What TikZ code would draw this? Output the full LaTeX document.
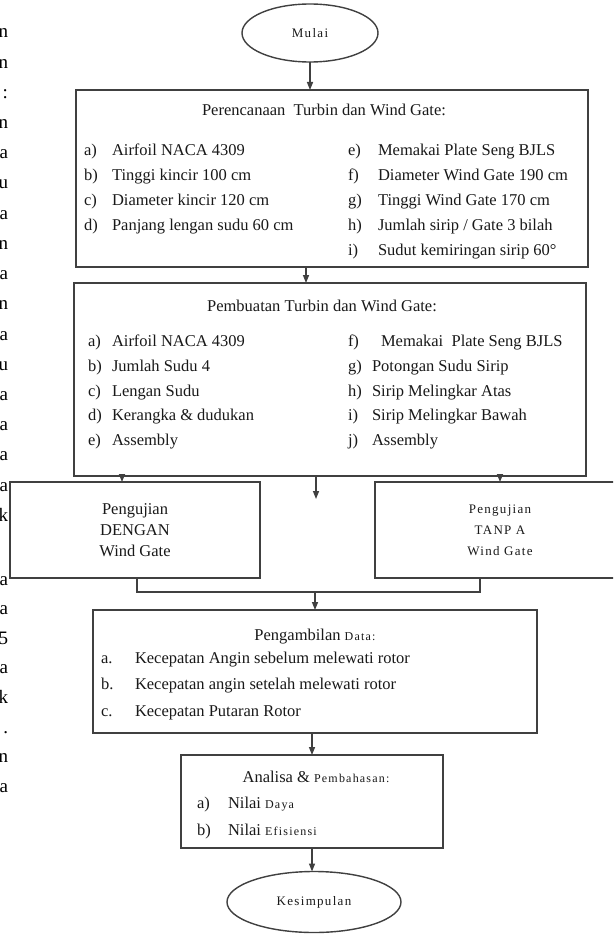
\documentclass[tikz,border=0pt]{standalone}
\usepackage{fontspec}
\setmainfont{Liberation Serif}
\newfontfamily\spc[LetterSpace=10]{Liberation Serif}
\usetikzlibrary{shapes.geometric,arrows.meta}
\begin{document}
\begin{tikzpicture}[x=1pt,y=-1pt,
  line/.style={draw=black!75,line width=1.4pt},
  arr/.style={line,-{Triangle[length=8pt,width=6pt]}},
  box/.style={line,rectangle,anchor=north west,inner sep=0pt,outer sep=0pt},
  oval/.style={line,ellipse,inner sep=0pt,outer sep=0pt},
  txt/.style={inner sep=0pt,outer sep=0pt,text=black!90,font=\fontsize{16.5}{21}\selectfont},
  lbl/.style={txt,anchor=base west},
  ttl/.style={txt,anchor=base},
  sm/.style={inner sep=0pt,outer sep=0pt,text=black!90,font=\spc\fontsize{13}{21}\selectfont},
  edgeltr/.style={inner sep=0pt,outer sep=0pt,anchor=base east,text=black,font=\fontsize{19}{20}\selectfont}
]
\useasboundingbox (0,0) rectangle (613,936);
\clip (0,0) rectangle (613,936);
\fill[white] (0,0) rectangle (613,936);

% cut letters at left edge
\foreach \c [count=\i from 0] in {n,n,:,n,a,u,a,n,a,n,a,u,a,a,a,a,k}
  \node[edgeltr] (up\i) at (8,38+30.2*\i) {\c};
\foreach \c [count=\i from 0] in {a,a,5,a,k,.,n,a}
  \node[edgeltr] (lo\i) at (8,585+29.6*\i) {\c};

% start
\node[oval,minimum width=136pt,minimum height=58pt] (mulai) at (310,33) {};
\node[sm] (mulait) at (310,33) {Mulai};

% box 1
\node[box,minimum width=512pt,minimum height=177pt] (b1) at (76,90) {};
\node[ttl] (b1t) at (324,115.5) {Perencanaan\ \ Turbin dan Wind Gate:};
\node[lbl] (b1la) at (84,155.5) {a)};
\node[lbl] (b1lb) at (84,180.5) {b)};
\node[lbl] (b1lc) at (84,205.5) {c)};
\node[lbl] (b1ld) at (84,230.5) {d)};
\node[lbl] (b1ta) at (112,155.5) {Airfoil NACA 4309};
\node[lbl] (b1tb) at (112,180.5) {Tinggi kincir 100 cm};
\node[lbl] (b1tc) at (112,205.5) {Diameter kincir 120 cm};
\node[lbl] (b1td) at (112,230.5) {Panjang lengan sudu 60 cm};
\node[lbl] (b1le) at (348,155.5) {e)};
\node[lbl] (b1lf) at (348,180.5) {f)};
\node[lbl] (b1lg) at (348,205.5) {g)};
\node[lbl] (b1lh) at (348,230.5) {h)};
\node[lbl] (b1li) at (348,255.5) {i)};
\node[lbl] (b1te) at (378,155.5) {Memakai Plate Seng BJLS};
\node[lbl] (b1tf) at (378,180.5) {Diameter Wind Gate 190 cm};
\node[lbl] (b1tg) at (378,205.5) {Tinggi Wind Gate 170 cm};
\node[lbl] (b1th) at (378,230.5) {Jumlah sirip / Gate 3 bilah};
\node[lbl] (b1ti) at (378,255.5) {Sudut kemiringan sirip 60°};

% box 2
\node[box,minimum width=512pt,minimum height=193pt] (b2) at (74,283) {};
\node[ttl] (b2t) at (322,311.5) {Pembuatan Turbin dan Wind Gate:};
\node[lbl] (b2la) at (88,346.5) {a)};
\node[lbl] (b2lb) at (88,371.5) {b)};
\node[lbl] (b2lc) at (88,396.5) {c)};
\node[lbl] (b2ld) at (88,420.5) {d)};
\node[lbl] (b2le) at (88,445.5) {e)};
\node[lbl] (b2ta) at (112,346.5) {Airfoil NACA 4309};
\node[lbl] (b2tb) at (112,371.5) {Jumlah Sudu 4};
\node[lbl] (b2tc) at (112,396.5) {Lengan Sudu};
\node[lbl] (b2td) at (112,420.5) {Kerangka \& dudukan};
\node[lbl] (b2te) at (112,445.5) {Assembly};
\node[lbl] (b2lf) at (348,346.5) {f)};
\node[lbl] (b2lg) at (348,371.5) {g)};
\node[lbl] (b2lh) at (348,396.5) {h)};
\node[lbl] (b2li) at (348,420.5) {i)};
\node[lbl] (b2lj) at (348,445.5) {j)};
\node[lbl] (b2tf) at (381,346.5) {Memakai\ \ Plate Seng BJLS};
\node[lbl] (b2tg) at (372,371.5) {Potongan Sudu Sirip};
\node[lbl] (b2th) at (372,396.5) {Sirip Melingkar Atas};
\node[lbl] (b2ti) at (372,420.5) {Sirip Melingkar Bawah};
\node[lbl] (b2tj) at (372,445.5) {Assembly};

% box 3
\node[box,minimum width=250pt,minimum height=96pt] (b3L) at (10,482) {};
\node[txt,align=center,font=\fontsize{16.5}{21}\selectfont] (b3Lt) at (135,530) {Pengujian\\DENGAN\\Wind Gate};
\node[box,minimum width=260pt,minimum height=96pt] (b3R) at (375,482) {};
\node[sm,align=center] (b3Rt) at (500,530) {Pengujian\\TANP A\\Wind Gate};

% box 4
\node[box,minimum width=444pt,minimum height=123pt] (b4) at (93,610) {};
\node[ttl] (b4t) at (315,640.5) {Pengambilan {\spc\fontsize{12}{14}\selectfont Data:}};
\node[lbl] (b4la) at (101,663.5) {a.};
\node[lbl] (b4lb) at (101,689.5) {b.};
\node[lbl] (b4lc) at (101,716.5) {c.};
\node[lbl] (b4ta) at (135,663.5) {Kecepatan Angin sebelum melewati rotor};
\node[lbl] (b4tb) at (135,689.5) {Kecepatan angin setelah melewati rotor};
\node[lbl] (b4tc) at (135,716.5) {Kecepatan Putaran Rotor};

% box 5
\node[box,minimum width=262pt,minimum height=93pt] (b5) at (181,755) {};
\node[ttl] (b5t) at (316,782.5) {Analisa \& {\spc\fontsize{12}{14}\selectfont Pembahasan:}};
\node[lbl] (b5la) at (197,808.5) {a)};
\node[lbl] (b5lb) at (197,835.5) {b)};
\node[lbl] (b5ta) at (228,808.5) {Nilai {\spc\fontsize{12}{14}\selectfont Daya}};
\node[lbl] (b5tb) at (228,835.5) {Nilai {\spc\fontsize{12}{14}\selectfont Efisiensi}};

% end
\node[oval,minimum width=174pt,minimum height=61pt] (kes) at (314,902) {};
\node[sm] (kest) at (314,902) {Kesimpulan};

% connectors
\coordinate (x306) at (306,0);
\coordinate (x122) at (122,0);
\coordinate (x500) at (500,0);
\coordinate (x316) at (316,0);
\coordinate (x137) at (137,0);
\coordinate (x480) at (480,0);
\coordinate (x312) at (312,0);
\coordinate (mid) at (316,499);
\coordinate (join) at (315,592);

\draw[arr] (mulai.south) -- (mulai.south |- b1.north);
\draw[arr] (b1.south -| x306) -- (b2.north -| x306);
\draw[arr] (b2.south -| x122) -- (b3L.north -| x122);
\draw[arr] (b2.south -| x500) -- (b3R.north -| x500);
\draw[arr] (b2.south -| x316) -- (mid);
\draw[line] (b3L.south -| x137) |- (join) -| (b3R.south -| x480);
\draw[arr] (join) -- (join |- b4.north);
\draw[arr] (b4.south -| x312) -- (b5.north -| x312);
\draw[arr] (b5.south -| x312) -- (kes.north -| x312);
\end{tikzpicture}
\end{document}
